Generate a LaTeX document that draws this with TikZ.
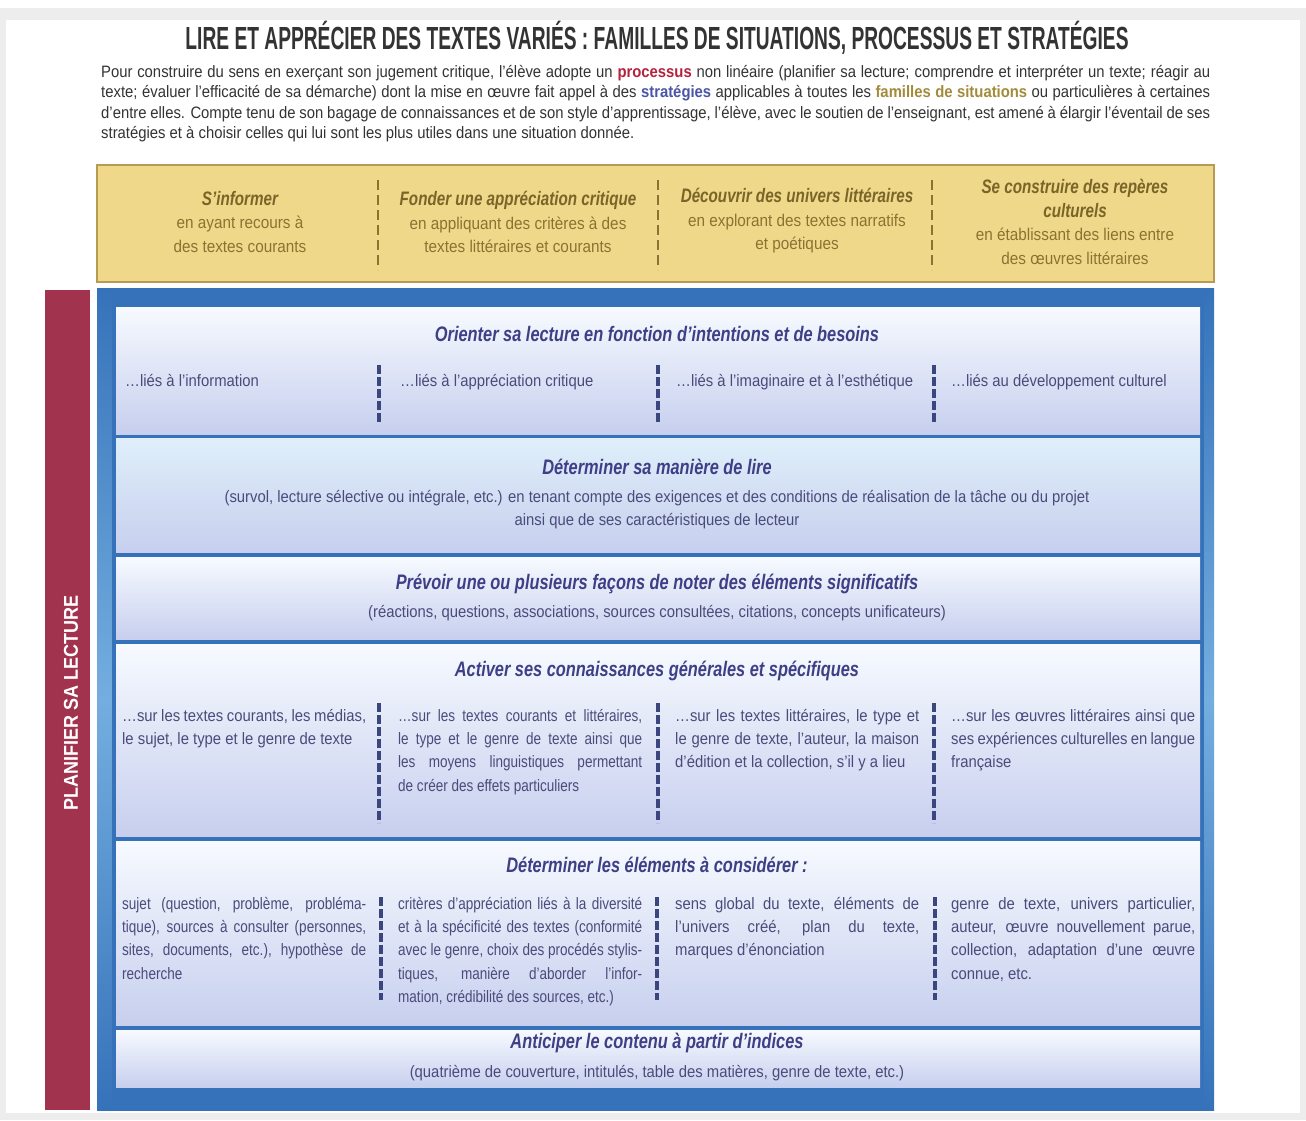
\documentclass[tikz,border=0pt]{standalone}
\usepackage{fontspec}
\setmainfont{Liberation Sans}
\newfontfamily\narrowfont[FakeStretch=0.90]{Liberation Sans}
\newfontfamily\condfont[FakeStretch=0.82]{Liberation Sans}
\newfontfamily\titlefont[FakeStretch=0.60]{Liberation Sans}
\newfontfamily\headfont[FakeStretch=0.78]{Liberation Sans}
\usetikzlibrary{positioning}

\definecolor{ink}{HTML}{4B4B7B}
\definecolor{headink}{HTML}{3E3F86}
\definecolor{sepink}{HTML}{3B467E}
\definecolor{ytext}{HTML}{8A7332}
\definecolor{yhead}{HTML}{7A6428}
\definecolor{yfill}{HTML}{F0D88A}
\definecolor{yedge}{HTML}{B89B52}
\definecolor{frameblue}{HTML}{3572B9}
\definecolor{framelight}{HTML}{74AEE0}
\definecolor{panelbot}{HTML}{C7CFEE}
\definecolor{paneltop}{HTML}{F7FAFF}
\definecolor{paneltopb}{HTML}{DFEFFA}
\definecolor{barred}{HTML}{A2334F}
\definecolor{procred}{HTML}{B3233E}
\definecolor{stratblue}{HTML}{4A55A6}
\definecolor{famgold}{HTML}{A38B3B}
\definecolor{introink}{HTML}{333333}
\definecolor{pagegray}{HTML}{EDEDED}

\tikzset{
  panel/.style={top color=paneltop, bottom color=panelbot},
  colsep/.style={draw=sepink, line width=3.5pt, dash pattern=on 9pt off 3pt},
  ysep/.style={draw=ytext, line width=2.8pt, dash pattern=on 10pt off 5pt},
  phead/.style={text=headink, inner sep=0pt, font={\headfont\bfseries\itshape\fontsize{21}{24}\selectfont}},
  ptxt/.style={text=ink, inner sep=0pt, align=center, font={\narrowfont\fontsize{16.5}{23.3}\selectfont}},
  pcol/.style={text=ink, inner sep=0pt, anchor=north west, text width=244pt, align=justify,
    font={\narrowfont\fontsize{16.5}{23.3}\selectfont}},
  pcond/.style={pcol, font={\condfont\fontsize{16.5}{23.3}\selectfont}},
  ycol/.style={text=ytext, inner sep=0pt, align=center, font={\narrowfont\fontsize{17}{23.5}\selectfont}},
}
\newcommand{\yhd}[1]{{\color{yhead}\headfont\bfseries\itshape\fontsize{19.5}{23.5}\selectfont #1}}

\begin{document}
\begin{tikzpicture}[x=1pt, y=-1pt]
  \useasboundingbox (0,0) rectangle (1306,1120);
  % page
  \fill[pagegray] (0,8) rectangle (1306,1120);
  \fill[white] (6,20) rectangle (1300,1113);

  % title and introduction
  \node[text=introink, inner sep=0pt, font={\titlefont\bfseries\fontsize{32}{33}\selectfont}] (titre) at (657,38)
    {LIRE ET APPRÉCIER DES TEXTES VARIÉS : FAMILLES DE SITUATIONS, PROCESSUS ET STRATÉGIES};
  \node[text=introink, inner sep=0pt, anchor=north west, text width=1109pt, align=justify,
    font={\narrowfont\fontsize{16.5}{20.5}\selectfont}] (intro) at (101,65)
    {Pour construire du sens en exerçant son jugement critique, l’élève adopte un \textcolor{procred}{\textbf{processus}} non linéaire (planifier sa lecture; comprendre et interpréter un texte; réagir au\linebreak
     texte; évaluer l’efficacité de sa démarche) dont la mise en œuvre fait appel à des \textcolor{stratblue}{\textbf{stratégies}} applicables à toutes les \textcolor{famgold}{\textbf{familles de situations}} ou particulières à certaines\linebreak
     d’entre elles. Compte tenu de son bagage de connaissances et de son style d’apprentissage, l’élève, avec le soutien de l’enseignant, est amené à élargir l’éventail de ses\linebreak
     stratégies et à choisir celles qui lui sont les plus utiles dans une situation donnée.};

  % familles de situations
  \fill[yfill] (97,165) rectangle (1214,282);
  \draw[yedge, line width=2.5pt] (97,165) rectangle (1214,282);
  \node[ycol] (informer) at (240,222) {\yhd{S’informer}\\ en ayant recours à\\ des textes courants};
  \node[ycol] (fonder) at (518,222) {\yhd{Fonder une appréciation critique}\\ en appliquant des critères à des\\ textes littéraires et courants};
  \node[ycol] (decouvrir) at (797,221) {\yhd{Découvrir des univers littéraires}\\ en explorant des textes narratifs\\ et poétiques};
  \node[ycol] (reperes) at (1075,222) {\yhd{Se construire des repères}\\ \yhd{culturels}\\ en établissant des liens entre\\ des œuvres littéraires};
  \foreach \x in {378,658,932}
    \draw[ysep] (\x,180) -- (\x,270);

  % cadre bleu et barre
  \fill[top color=frameblue, bottom color=frameblue, middle color=framelight] (97,288) rectangle (1214,1110);
  \fill[frameblue] (112,288) rectangle (1204,1110);
  \fill[barred] (45,290) rectangle (90,1110);
  \node[rotate=90, text=white, inner sep=0pt, font={\narrowfont\bfseries\fontsize{20}{22}\selectfont}] (planifier) at (71,703)
    {PLANIFIER SA LECTURE};

  % panneaux
  \fill[panel] (116,307) rectangle (1200,434);
  \fill[panel, top color=paneltopb] (116,438) rectangle (1200,552);
  \fill[panel] (116,557) rectangle (1200,639);
  \fill[panel] (116,644) rectangle (1200,836);
  \fill[panel] (116,841) rectangle (1200,1025);
  \fill[panel] (116,1030) rectangle (1200,1087);

  % 1
  \node[phead] (orienter) at (657,334) {Orienter sa lecture en fonction d’intentions et de besoins};
  \node[ptxt, anchor=base west] (info) at (125,386) {…liés à l’information};
  \node[ptxt, anchor=base west] (appr) at (400,386) {…liés à l’appréciation critique};
  \node[ptxt, anchor=base west] (imag) at (676,386) {…liés à l’imaginaire et à l’esthétique};
  \node[ptxt, anchor=base west] (cult) at (951,386) {…liés au développement culturel};
  \foreach \x in {379,658,934}
    \draw[colsep] (\x,365) -- (\x,422);

  % 2
  \node[phead] (maniere) at (657,467) {Déterminer sa manière de lire};
  \node[ptxt] (maniereT) at (657,509.5) {(survol, lecture sélective ou intégrale, etc.) en tenant compte des exigences et des conditions de réalisation de la tâche ou du projet\\ ainsi que de ses caractéristiques de lecteur};

  % 3
  \node[phead] (noter) at (657,584) {Prévoir une ou plusieurs façons de noter des éléments significatifs};
  \node[ptxt] (noterT) at (657,613) {(réactions, questions, associations, sources consultées, citations, concepts unificateurs)};

  % 4
  \node[phead] (activer) at (657,671) {Activer ses connaissances générales et spécifiques};
  \node[pcol] (act1) at (122,709) {…sur les textes courants, les médias,\linebreak le sujet, le type et le genre de texte};
  \node[pcond] (act2) at (398,709) {…sur les textes courants et littéraires,\linebreak le type et le genre de texte ainsi que\linebreak les moyens linguistiques permettant\linebreak de créer des effets particuliers};
  \node[pcol] (act3) at (675,709) {…sur les textes littéraires, le type et\linebreak le genre de texte, l’auteur, la maison\linebreak d’édition et la collection, s’il y a lieu};
  \node[pcol] (act4) at (951,709) {…sur les œuvres littéraires ainsi que\linebreak ses expériences culturelles en langue\linebreak française};
  \foreach \x in {379,658,934}
    \draw[colsep] (\x,703) -- (\x,823);

  % 5
  \node[phead] (elements) at (657,865) {Déterminer les éléments à considérer :};
  \node[pcond] (el1) at (122,897) {sujet (question, problème, probléma-\linebreak tique), sources à consulter (personnes,\linebreak sites, documents, etc.), hypothèse de\linebreak recherche};
  \node[pcond] (el2) at (398,897) {critères d’appréciation liés à la diversité\linebreak et à la spécificité des textes (conformité\linebreak avec le genre, choix des procédés stylis-\linebreak tiques, manière d’aborder l’infor-\linebreak mation, crédibilité des sources, etc.)};
  \node[pcol] (el3) at (675,897) {sens global du texte, éléments de\linebreak l’univers créé, plan du texte,\linebreak marques d’énonciation};
  \node[pcol] (el4) at (951,897) {genre de texte, univers particulier,\linebreak auteur, œuvre nouvellement parue,\linebreak collection, adaptation d’une œuvre\linebreak connue, etc.};
  \foreach \x in {381,657,935}
    \draw[colsep] (\x,897) -- (\x,1000);

  % 6
  \node[phead] (anticiper) at (657,1043) {Anticiper le contenu à partir d’indices};
  \node[ptxt] (anticiperT) at (657,1073) {(quatrième de couverture, intitulés, table des matières, genre de texte, etc.)};
\end{tikzpicture}
\end{document}
